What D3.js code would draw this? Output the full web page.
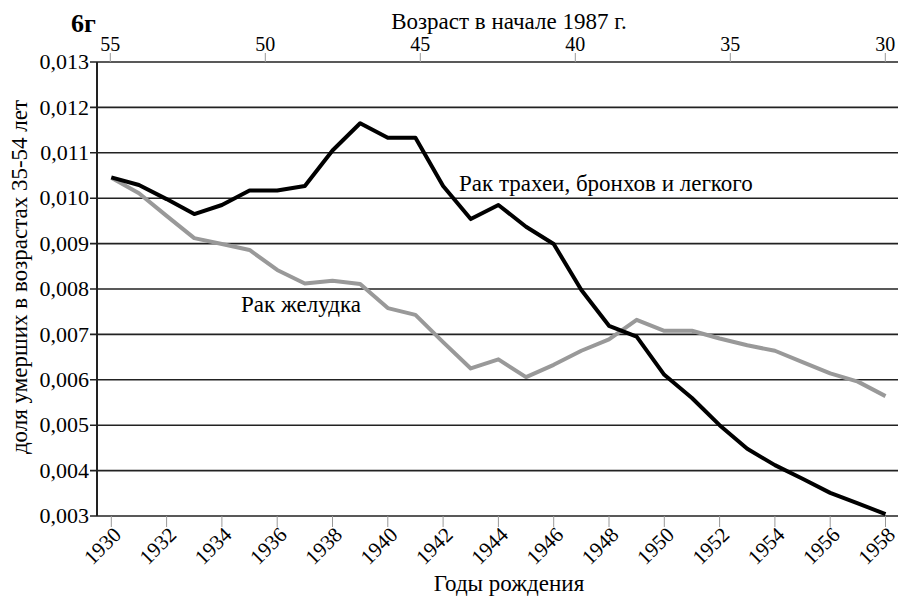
<!DOCTYPE html>
<html>
<head>
<meta charset="utf-8">
<script src="https://cdn.jsdelivr.net/npm/d3@7"></script>
<style>
  body { margin: 0; background: #fff; }
  svg text { font-family: "Liberation Serif", Tinos, "Times New Roman", "DejaVu Serif", serif; }
</style>
</head>
<body>
<div id="chart"></div>
<script>
var years = d3.range(1930, 1959);

// Рак трахеи, бронхов и легкого
var lung = [0.01046, 0.01029, 0.00998, 0.00965, 0.00985, 0.01017, 0.01017, 0.01027, 0.01105, 0.01165,
            0.01133, 0.01133, 0.01027, 0.00954, 0.00985, 0.00937, 0.00899, 0.00798, 0.00719, 0.00695,
            0.00611, 0.00560, 0.00500, 0.00448, 0.00412, 0.00382, 0.00351, 0.00328, 0.00304];

// Рак желудка
var stomach = [0.01045, 0.01011, 0.00961, 0.00912, 0.00899, 0.00886, 0.00842, 0.00812, 0.00818, 0.00811,
               0.00758, 0.00743, 0.00683, 0.00625, 0.00645, 0.00606, 0.00633, 0.00664, 0.00689, 0.00732,
               0.00708, 0.00708, 0.00691, 0.00676, 0.00664, 0.00639, 0.00614, 0.00596, 0.00564];

var yearTicks = d3.range(1930, 1959, 2);
var ageTicks = [55, 50, 45, 40, 35, 30];
var valueTicks = d3.range(3, 14).map(d => d / 1000);

var width = 901, height = 597;
var plotLeft = 97, plotRight = 898, plotTop = 62, plotBottom = 516;

var svg = d3.select("#chart").append("svg")
    .attr("width", width)
    .attr("height", height);

var x = d3.scaleLinear().domain([1930, 1958]).range([111.3, 885.5]);
var xAge = d3.scaleLinear().domain([55, 30]).range([110.3, 885.3]);
var y = d3.scaleLinear().domain([0.003, 0.013]).range([plotBottom, plotTop]);

var ru = d3.formatLocale({decimal: ",", thousands: " ", grouping: [3], currency: ["", ""]});
var fmt = ru.format(".3f");

// gridlines + left ticks
svg.append("g")
  .selectAll("line")
  .data(valueTicks)
  .enter().append("line")
    .attr("x1", plotLeft - 7)
    .attr("x2", plotRight)
    .attr("y1", d => y(d))
    .attr("y2", d => y(d))
    .attr("stroke", "#222")
    .attr("stroke-width", 1.6);

svg.append("g")
  .selectAll("text")
  .data(valueTicks)
  .enter().append("text")
    .attr("x", plotLeft - 8)
    .attr("y", d => y(d))
    .attr("dy", "0.33em")
    .attr("text-anchor", "end")
    .style("font-size", "22px")
    .text(d => fmt(d));

// left axis line
svg.append("line")
    .attr("x1", plotLeft).attr("x2", plotLeft)
    .attr("y1", plotTop).attr("y2", plotBottom)
    .attr("stroke", "#222")
    .attr("stroke-width", 2);

// bottom axis
var gx = svg.append("g");
gx.selectAll("line")
  .data(yearTicks)
  .enter().append("line")
    .attr("x1", d => x(d)).attr("x2", d => x(d))
    .attr("y1", plotBottom).attr("y2", plotBottom + 11)
    .attr("stroke", "#999")
    .attr("stroke-width", 1);
gx.selectAll("text")
  .data(yearTicks)
  .enter().append("text")
    .attr("transform", d => `translate(${x(d) + 11},${plotBottom + 20}) rotate(-45)`)
    .attr("text-anchor", "end")
    .style("font-size", "21px")
    .text(d => d);

// top axis
var gt = svg.append("g");
gt.selectAll("line")
  .data(ageTicks)
  .enter().append("line")
    .attr("x1", d => xAge(d)).attr("x2", d => xAge(d))
    .attr("y1", plotTop).attr("y2", plotTop - 9)
    .attr("stroke", "#999")
    .attr("stroke-width", 1);
gt.selectAll("text")
  .data(ageTicks)
  .enter().append("text")
    .attr("x", d => xAge(d))
    .attr("y", 51)
    .attr("text-anchor", "middle")
    .style("font-size", "20px")
    .text(d => d);

// lines
var line = d3.line()
    .x((d, i) => x(years[i]))
    .y(d => y(d));

svg.append("path")
    .datum(stomach)
    .attr("fill", "none")
    .attr("stroke", "#999")
    .attr("stroke-width", 4)
    .attr("stroke-linejoin", "round")
    .attr("d", line);

svg.append("path")
    .datum(lung)
    .attr("fill", "none")
    .attr("stroke", "#000")
    .attr("stroke-width", 4)
    .attr("stroke-linejoin", "round")
    .attr("d", line);

// series labels
svg.append("text")
    .attr("x", 459).attr("y", 191)
    .style("font-size", "23px")
    .text("Рак трахеи, бронхов и легкого");

svg.append("text")
    .attr("x", 241).attr("y", 312)
    .style("font-size", "23px")
    .text("Рак желудка");

// titles
svg.append("text")
    .attr("x", 71).attr("y", 32)
    .style("font-size", "26px")
    .style("font-weight", "bold")
    .text("6г");

svg.append("text")
    .attr("x", 509).attr("y", 29)
    .attr("text-anchor", "middle")
    .style("font-size", "23px")
    .text("Возраст в начале 1987 г.");

svg.append("text")
    .attr("x", 509).attr("y", 591)
    .attr("text-anchor", "middle")
    .style("font-size", "23px")
    .text("Годы рождения");

svg.append("text")
    .attr("transform", "translate(27,277) rotate(-90)")
    .attr("text-anchor", "middle")
    .style("font-size", "23px")
    .text("доля умерших в возрастах 35-54 лет");
</script>
</body>
</html>
